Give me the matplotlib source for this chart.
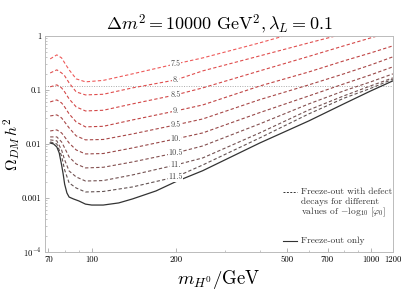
import numpy as np
import matplotlib.pyplot as plt
from matplotlib.ticker import FixedLocator, FixedFormatter, NullFormatter

plt.rcParams['font.family'] = 'cmr10'
plt.rcParams['mathtext.fontset'] = 'cm'
plt.rcParams['axes.unicode_minus'] = False

# dark matter mass in GeV
mass = [71, 75, 78, 80, 83, 88, 95, 110, 140, 200, 250, 400, 600, 800, 1000, 1200]

# freeze-out only (own, finer mass grid)
mass_fo = [71, 73, 75, 76.5, 78, 79, 80, 81.5, 83, 86, 90, 95, 100, 110, 125, 140,
           170, 200, 250, 400, 600, 800, 1000, 1200]
omega_fo = [0.0104, 0.0100, 0.0088, 0.0068, 0.0041, 0.0028, 0.0018, 0.00124,
            0.00104, 0.00096, 0.00088, 0.00077, 0.00074, 0.00074, 0.00081, 0.00096,
            0.00135, 0.0020, 0.0032, 0.0104, 0.0267, 0.0551, 0.0958, 0.147]

# freeze-out + defect decays, labelled by -log10[phi0]
levels = ['7.5', '8.', '8.5', '9.', '9.5', '10.', '10.5', '11.', '11.5']
omega_75 = [0.375, 0.445, 0.391, 0.316, 0.235, 0.160, 0.141, 0.150, 0.198, 0.303, 0.391, 0.742, 1.35, 2.06, 2.78, 3.59]
omega_80 = [0.206, 0.235, 0.206, 0.182, 0.135, 0.0918, 0.0808, 0.0830, 0.109, 0.153, 0.225, 0.426, 0.742, 1.09, 1.47, 1.90]
omega_85 = [0.114, 0.124, 0.109, 0.0918, 0.0681, 0.0484, 0.0408, 0.0420, 0.0551, 0.0808, 0.109, 0.225, 0.417, 0.653, 0.918, 1.21]
omega_90 = [0.060, 0.0653, 0.0574, 0.0484, 0.0360, 0.0255, 0.0207, 0.0212, 0.0278, 0.0408, 0.0527, 0.118, 0.215, 0.344, 0.484, 0.653]
omega_95 = [0.033, 0.0345, 0.0303, 0.0255, 0.0198, 0.0141, 0.0119, 0.0121, 0.0153, 0.0225, 0.029, 0.066, 0.124, 0.198, 0.290, 0.409]
omega_100 = [0.0174, 0.0182, 0.016, 0.0135, 0.0104, 0.00774, 0.00653, 0.00665, 0.00843, 0.0124, 0.016, 0.038, 0.0774, 0.129, 0.190, 0.267]
omega_105 = [0.0135, 0.0135, 0.0109, 0.00843, 0.00574, 0.00426, 0.0036, 0.0037, 0.00464, 0.00681, 0.00918, 0.0235, 0.0551, 0.0958, 0.141, 0.198]
omega_110 = [0.0119, 0.0114, 0.00774, 0.00506, 0.00316, 0.00245, 0.00206, 0.0021, 0.00267, 0.00408, 0.00551, 0.016, 0.0426, 0.0774, 0.119, 0.167]
omega_115 = [0.0109, 0.0100, 0.0060, 0.0033, 0.0019, 0.00153, 0.00129, 0.00132, 0.0016, 0.00245, 0.00408, 0.0129, 0.0360, 0.0700, 0.107, 0.158]
defect_curves = [omega_75, omega_80, omega_85, omega_90, omega_95,
                 omega_100, omega_105, omega_110, omega_115]

colors = ['#ee5a5a', '#e04e4e', '#d44848', '#c04444', '#a84848',
          '#984848', '#845050', '#735252', '#625252']

fig = plt.figure(figsize=(4.05, 3.04), dpi=100)
ax = fig.add_axes([0.111, 0.171, 0.859, 0.711])

# Planck relic density
ax.axhline(0.12, color='#aaaaaa', lw=0.7, ls=(0, (1, 1.5)), zorder=1)

i_lab = mass.index(200)
for lev, om, c in zip(levels, defect_curves, colors):
    ax.plot(mass, om, color=c, lw=0.8, ls=(0, (3, 2)), zorder=2)
    ax.text(mass[i_lab], om[i_lab], lev, fontsize=5.8, color='#444444',
            ha='center', va='center', zorder=4,
            bbox=dict(facecolor='white', edgecolor='none', pad=0.3))

ax.plot(mass_fo, omega_fo, color='#333333', lw=0.9, zorder=3)

ax.set_xscale('log')
ax.set_yscale('log')
ax.set_xlim(68, 1200)
ax.set_ylim(1e-4, 1)

xt = [70, 100, 200, 500, 700, 1000, 1200]
ax.xaxis.set_major_locator(FixedLocator(xt))
ax.xaxis.set_major_formatter(FixedFormatter([str(v) for v in xt]))
ax.xaxis.set_minor_locator(FixedLocator([80, 90, 300, 400, 600, 800, 900]))
ax.xaxis.set_minor_formatter(NullFormatter())

yt = [1e-4, 1e-3, 1e-2, 0.1, 1]
ax.yaxis.set_major_locator(FixedLocator(yt))
ax.yaxis.set_major_formatter(FixedFormatter(['$10^{-4}$', '0.001', '0.01', '0.1', '1']))
ax.yaxis.set_minor_locator(FixedLocator([k * 10.0**e for e in range(-4, 0) for k in range(2, 10)]))
ax.yaxis.set_minor_formatter(NullFormatter())

ax.tick_params(which='both', direction='in', labelsize=6.3, color='#999999',
               top=False, right=False, pad=2.5)
ax.tick_params(which='major', length=3, width=0.5)
ax.tick_params(which='minor', length=1.5, width=0.4)
for s in ax.spines.values():
    s.set_color('#bbbbbb')
    s.set_linewidth(0.7)

ax.set_title(r'$\Delta m^2 = 10000\ \mathrm{GeV}^2, \lambda_L = 0.1$', fontsize=13, pad=4)
ax.set_ylabel(r'$\Omega_{DM}\, h^2$', fontsize=11.5)
ax.yaxis.set_label_coords(-0.062, 0.5)
ax.set_xlabel(r'$m_{H^0}/\mathrm{GeV}$', fontsize=13.5, labelpad=3)

# legend
ax.plot([0.684, 0.724], [0.278, 0.278], transform=ax.transAxes, color='#333333',
        lw=0.7, ls=(0, (2, 1.5)))
ax.text(0.736, 0.278, 'Freeze-out with defect', transform=ax.transAxes,
        fontsize=6.8, va='center', color='#333333')
ax.text(0.736, 0.231, 'decays for different', transform=ax.transAxes,
        fontsize=6.8, va='center', color='#333333')
ax.text(0.736, 0.185, r'values of $-\log_{10}\,[\varphi_0]$', transform=ax.transAxes,
        fontsize=6.8, va='center', color='#333333')
ax.plot([0.684, 0.724], [0.051, 0.051], transform=ax.transAxes, color='#333333', lw=0.8)
ax.text(0.736, 0.051, 'Freeze-out only', transform=ax.transAxes,
        fontsize=6.8, va='center', color='#333333')

fig.savefig('out.png', dpi=100)
